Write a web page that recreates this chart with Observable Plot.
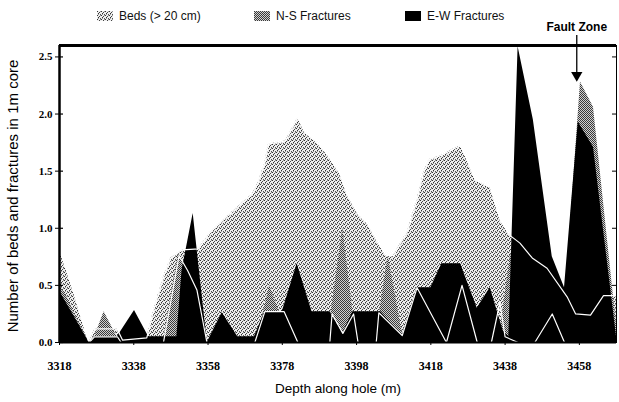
<!DOCTYPE html>
<html>
<head>
<meta charset="utf-8">
<script src="https://cdn.jsdelivr.net/npm/d3@7"></script>
<script src="https://cdn.jsdelivr.net/npm/@observablehq/plot@0.6"></script>
<style>
  body { margin: 0; background: #fff; }
  #wrap { position: relative; width: 619px; height: 402px; font-family: "Liberation Sans", Arial, sans-serif; }
  .sw { position: absolute; top: 11px; width: 16px; height: 10px; }
  .lt { position: absolute; top: 9px; font-size: 12px; line-height: 14px; color: #111; white-space: nowrap; }
</style>
</head>
<body>
<svg width="0" height="0" style="position:absolute">
  <defs>
    <pattern id="bedsPat" width="4" height="4" patternUnits="userSpaceOnUse">
      <rect width="4" height="4" fill="#eeeeee"/>
      <rect x="0" y="0" width="1" height="1" fill="#333"/>
      <rect x="2" y="1" width="1" height="1" fill="#444"/>
      <rect x="1" y="2" width="1" height="1" fill="#333"/>
      <rect x="3" y="3" width="1" height="1" fill="#555"/>
      <rect x="3" y="0" width="1" height="1" fill="#999"/>
      <rect x="1" y="3" width="1" height="1" fill="#999"/>
    </pattern>
    <pattern id="nsPat" width="2" height="2" patternUnits="userSpaceOnUse">
      <rect width="2" height="2" fill="#d0d0d0"/>
      <rect x="0" y="0" width="1" height="1" fill="#3a3a3a"/>
      <rect x="1" y="1" width="1" height="1" fill="#3a3a3a"/>
    </pattern>
  </defs>
</svg>
<div id="wrap">
  <div id="chart"></div>
  <div id="legend"></div>
</div>
<script>
// ---- data ----
const seriesNames = ["Beds (> 20 cm)", "N-S Fractures", "E-W Fractures"];

const bedsDepth = [3318, 3320, 3322, 3324, 3326, 3327.5, 3333.5, 3335, 3341.5, 3343.6, 3346.3, 3348, 3351, 3355.5, 3358.5, 3363, 3366.5, 3370, 3371.5, 3373.3, 3374.3, 3377.3, 3379, 3382.2, 3384, 3387.3, 3390, 3393.5, 3395.4, 3398.4, 3401, 3403.8, 3406, 3408, 3411.8, 3414.3, 3416, 3417.5, 3421, 3424.5, 3426, 3427.2, 3430, 3434, 3436.7, 3439.2, 3442, 3445.3, 3449.3, 3454.7, 3457, 3461, 3464.5, 3468];
const bedsValue = [0.81, 0.62, 0.42, 0.2, 0.0, 0.12, 0.12, 0.02, 0.04, 0.31, 0.6, 0.74, 0.81, 0.82, 0.96, 1.1, 1.2, 1.3, 1.4, 1.57, 1.74, 1.75, 1.77, 1.97, 1.84, 1.75, 1.65, 1.48, 1.3, 1.12, 1.04, 0.87, 0.76, 0.76, 0.98, 1.25, 1.48, 1.6, 1.64, 1.7, 1.72, 1.64, 1.42, 1.36, 1.07, 0.94, 0.87, 0.74, 0.65, 0.4, 0.25, 0.24, 0.41, 0.41];

const nsDepth = [3318, 3320, 3322, 3326, 3327.5, 3330, 3333.5, 3335, 3346, 3350, 3352.5, 3355, 3357.7, 3371, 3374.6, 3378, 3382, 3390, 3394.3, 3398, 3403, 3406.5, 3410.5, 3436, 3436.7, 3439.5, 3442, 3450, 3454, 3458.3, 3461.8, 3468];
const nsValue = [0.5, 0.4, 0.25, 0.0, 0.05, 0.27, 0.05, 0.0, 0.02, 0.78, 0.62, 0.45, 0.0, 0.0, 0.5, 0.2, 0.0, 0.0, 1.0, 0.0, 0.0, 0.76, 0.05, 0.05, 0.1, 0.78, 0.4, 0.2, 0.3, 2.28, 2.06, 0.15];

const ewDepth = [3318, 3326, 3327.4, 3333.6, 3338.2, 3342, 3349.6, 3351, 3354, 3357.8, 3361.8, 3366, 3370.5, 3373.3, 3378, 3382, 3386, 3390.8, 3394.3, 3397, 3404.5, 3410.3, 3414.3, 3418, 3421, 3426, 3430.5, 3434, 3437.5, 3439, 3441.5, 3445.6, 3450.7, 3454, 3457.7, 3461.8, 3468];
const ewValue = [0.45, 0.0, 0.05, 0.05, 0.28, 0.05, 0.05, 0.63, 1.13, 0.0, 0.26, 0.05, 0.05, 0.27, 0.27, 0.69, 0.27, 0.27, 0.08, 0.27, 0.27, 0.06, 0.48, 0.48, 0.69, 0.69, 0.3, 0.48, 0.1, 0.05, 2.59, 1.95, 0.75, 0.48, 1.93, 1.71, 0.05];

// white trace line visible over the fills
const traceDepth = [3324.5, 3326, 3327.4, 3333.6, 3334.6, 3346, 3350.2, 3352.5, 3355, 3357.7, 3370.6, 3373.3, 3378.5, 3382.2, 3390.8, 3391.4, 3394.3, 3397.2, 3398.4, 3403.3, 3404, 3410.3, 3414.3, 3422.2, 3426.4, 3430.5, 3434.3, 3436.6, 3438, 3441.5, 3446, 3450.7, 3454];
const traceValue = [0.12, 0.0, 0.05, 0.05, 0.0, 0.0, 0.76, 0.63, 0.46, 0.0, 0.0, 0.27, 0.27, 0.0, 0.0, 0.25, 0.08, 0.25, 0.0, 0.0, 0.26, 0.06, 0.48, 0.0, 0.5, 0.0, 0.0, 0.35, 0.05, 0.0, 0.0, 0.25, 0.0];

const xTicks = [3318, 3338, 3358, 3378, 3398, 3418, 3438, 3458];
const yTicks = [0, 0.5, 1.0, 1.5, 2.0, 2.5];
const faultLabel = "Fault Zone";
const faultDepth = 3457.3;
const xTitle = "Depth along hole (m)";
const yTitle = "Number of beds and fractures in 1m core";

// ---- build tables ----
const toRows = (ds, vs) => ds.map((d, i) => ({depth: d, value: vs[i]}));
const beds = toRows(bedsDepth, bedsValue);
const ns = toRows(nsDepth, nsValue);
const ew = toRows(ewDepth, ewValue);
const trace = toRows(traceDepth, traceValue);

const W = 619, H = 402, mL = 59, mR = 3, mT = 45, mB = 60;
const xDomain = [3318, 3468], yDomain = [0, 2.6];
const plotW = W - mL - mR;
const pxPerUnit = (H - mT - mB) / (yDomain[1] - yDomain[0]);

const chart = Plot.plot({
  width: W, height: H,
  marginLeft: mL, marginRight: mR, marginTop: mT, marginBottom: mB,
  style: {fontFamily: "Liberation Sans, Arial, sans-serif", background: "#fff", color: "#000"},
  x: {domain: xDomain},
  y: {domain: yDomain},
  marks: [
    Plot.areaY(beds, {x: "depth", y: "value", fill: "url(#bedsPat)"}),
    Plot.areaY(ns, {x: "depth", y: "value", fill: "url(#nsPat)"}),
    Plot.areaY(ew, {x: "depth", y: "value", fill: "#000"}),
    Plot.line(beds, {x: "depth", y: "value", stroke: "#fff", strokeWidth: 1.2}),
    Plot.line(trace, {x: "depth", y: "value", stroke: "#fff", strokeWidth: 1.2}),
    Plot.frame({stroke: "#000", strokeWidth: 1}),
    Plot.ruleX([xDomain[0]], {stroke: "#000", strokeWidth: 2.5}),
    Plot.ruleY([yDomain[0]], {stroke: "#000", strokeWidth: 2}),
    Plot.ruleY([yDomain[1]], {stroke: "#000", strokeWidth: 3}),
    Plot.axisX({ticks: xTicks, tickFormat: d => String(d), tickSize: 3, tickPadding: 16,
      fontFamily: "Liberation Serif, Times New Roman, serif", fontWeight: "bold", fontSize: 12, label: null}),
    Plot.axisY({ticks: yTicks, tickFormat: d => d.toFixed(1), tickSize: 4, tickPadding: 3,
      fontFamily: "Liberation Serif, Times New Roman, serif", fontWeight: "bold", fontSize: 11, label: null}),
    Plot.ruleY(yTicks, {y: d => d, insetRight: plotW - 4, stroke: "#000", strokeWidth: 1.2}),
    Plot.ruleY(yTicks, {y: d => d, insetLeft: plotW - 4, stroke: "#000", strokeWidth: 1}),
    Plot.text([xTitle], {frameAnchor: "bottom", dy: 50, fontSize: 13.5, fill: "#000"}),
    Plot.text([yTitle], {frameAnchor: "left", textAnchor: "middle", dx: -46, dy: 2, rotate: -90, fontSize: 15, fill: "#000"}),
    // Fault zone annotation
    Plot.ruleX([faultDepth], {y1: yDomain[1] + 10 / pxPerUnit, y2: 2.36, stroke: "#000", strokeWidth: 1.3}),
    Plot.dot([faultDepth], {x: d => d, y: 2.34, symbol: "triangle", rotate: 180, r: 4.2, fill: "#000", stroke: "none"}),
    Plot.text([faultLabel], {x: faultDepth, y: yDomain[1] + 18 / pxPerUnit, fontWeight: "bold", fontSize: 12,
      fontFamily: "Liberation Sans Narrow, Liberation Sans, Arial, sans-serif", fill: "#000"})
  ]
});
document.getElementById("chart").appendChild(chart);

// ---- legend (HTML above the plot area) ----
const legend = document.getElementById("legend");
const legendFills = ["url(#bedsPat)", "url(#nsPat)", "#000"];
const legendX = [97, 254, 405];
seriesNames.forEach((name, i) => {
  const sw = document.createElementNS("http://www.w3.org/2000/svg", "svg");
  sw.setAttribute("class", "sw");
  sw.setAttribute("width", 16); sw.setAttribute("height", 10);
  sw.style.left = legendX[i] + "px";
  const r = document.createElementNS("http://www.w3.org/2000/svg", "rect");
  r.setAttribute("width", 16); r.setAttribute("height", 10);
  r.setAttribute("fill", legendFills[i]);
  sw.appendChild(r);
  legend.appendChild(sw);
  const t = document.createElement("div");
  t.className = "lt";
  t.style.left = (legendX[i] + 22) + "px";
  t.textContent = name;
  legend.appendChild(t);
});
</script>
</body>
</html>
